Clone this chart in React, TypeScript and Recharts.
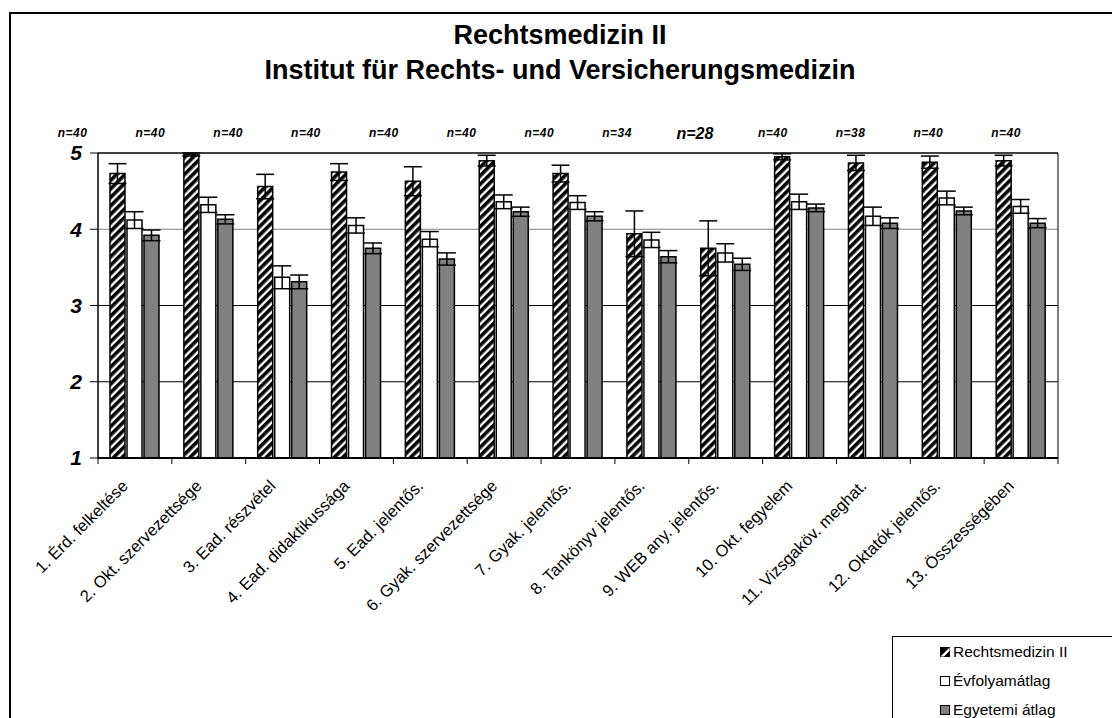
import { BarChart, Bar, XAxis, YAxis, ErrorBar, CartesianGrid, ReferenceArea, LabelList, Legend } from 'recharts';

const categories = [
  '1. Érd. felkeltése',
  '2. Okt. szervezettsége',
  '3. Ead. részvétel',
  '4. Ead. didaktikussága',
  '5. Ead. jelentős.',
  '6. Gyak. szervezettsége',
  '7. Gyak. jelentős.',
  '8. Tankönyv jelentős.',
  '9. WEB any. jelentős.',
  '10. Okt. fegyelem',
  '11. Vizsgaköv. meghat.',
  '12. Oktatók jelentős.',
  '13. Összességében',
];
const nValues = [40, 40, 40, 40, 40, 40, 40, 34, 28, 40, 38, 40, 40];

const instituteMean = [4.73, 4.98, 4.56, 4.75, 4.63, 4.9, 4.73, 3.94, 3.75, 4.95, 4.87, 4.88, 4.9];
const instituteErr = [0.13, 0.02, 0.16, 0.11, 0.19, 0.07, 0.11, 0.3, 0.36, 0.04, 0.1, 0.08, 0.07];
const cohortMean = [4.12, 4.32, 3.37, 4.05, 3.87, 4.36, 4.35, 3.86, 3.69, 4.36, 4.17, 4.41, 4.3];
const cohortErr = [0.11, 0.1, 0.15, 0.1, 0.1, 0.09, 0.09, 0.1, 0.12, 0.1, 0.12, 0.09, 0.09];
const univMean = [3.92, 4.13, 3.31, 3.75, 3.61, 4.23, 4.17, 3.64, 3.54, 4.28, 4.08, 4.24, 4.08];
const univErr = [0.07, 0.06, 0.09, 0.07, 0.08, 0.06, 0.06, 0.08, 0.08, 0.05, 0.07, 0.05, 0.06];

const seriesKeys = ['inst', 'cohort', 'univ'];
const seriesNames = ['Rechtsmedizin II', 'Évfolyamátlag', 'Egyetemi átlag'];

const yTicks = [1, 2, 3, 4, 5];

const FONT = 'Arial, "Liberation Sans", sans-serif';
const W = 1112;
const H = 718;
const PLOT_LEFT = 98;
const PLOT_RIGHT = 1058;
const BAND = (PLOT_RIGHT - PLOT_LEFT) / categories.length;
const BAR = 15;
const GAP = 2;
const GROUP = BAR * 3 + GAP * 2;

const rows = categories.map((name, i) => ({
  name,
  n: nValues[i],
  inst: instituteMean[i],
  instErr: instituteErr[i],
  cohort: cohortMean[i],
  cohortErr: cohortErr[i],
  univ: univMean[i],
  univErr: univErr[i],
}));

function CategoryTick(props: any) {
  const { x, y, payload, index } = props;
  const half = BAND / 2;
  return (
    <g>
      <line x1={x - half} x2={x - half} y1={y} y2={y + 6} stroke="#000" strokeWidth={1} />
      {index === categories.length - 1 && (
        <line x1={x + half} x2={x + half} y1={y} y2={y + 6} stroke="#000" strokeWidth={1} />
      )}
      <text
        transform={`translate(${x - 6},${y + 29}) rotate(-45)`}
        textAnchor="end"
        fontSize={16.5}
        fontFamily={FONT}
        fill="#000"
      >
        {payload.value}
      </text>
    </g>
  );
}

// n labels sit in a row above the plot, spread a bit wider than the groups
function NLabel(props: any) {
  const { x, value } = props;
  const center = x + GROUP / 2;
  const lx = 73 + (center - (PLOT_LEFT + BAND / 2)) * 1.0535;
  const big = value === 28;
  return (
    <text
      x={lx}
      y={big ? 139 : 137}
      textAnchor="middle"
      fontSize={big ? 16 : 12}
      fontWeight="bold"
      fontStyle="italic"
      fontFamily={FONT}
      letterSpacing={big ? 0 : 0.5}
      fill="#000"
    >
      {`n=${value}`}
    </text>
  );
}

function GridLine(props: any) {
  const { x1, x2, y1, y2, index } = props;
  return <line x1={x1} x2={x2} y1={y1} y2={y2} stroke={index === 3 ? '#808080' : '#000'} strokeWidth={1} />;
}

function LegendIcon({ kind }: { kind: string }) {
  if (kind === 'inst') {
    return (
      <svg width={10} height={10} style={{ marginRight: 3 }}>
        <rect x={0.5} y={0.5} width={9} height={9} fill="#000" stroke="#000" />
        <polygon points="9.5,0.5 9.5,4 4,9.5 0.5,9.5" fill="#fff" />
        <polygon points="9.5,4.5 9.5,9.5 5,9.5" fill="#000" />
      </svg>
    );
  }
  return (
    <svg width={10} height={10} style={{ marginRight: 3 }}>
      <rect x={0.5} y={0.5} width={9} height={9} fill={kind === 'cohort' ? '#fff' : '#808080'} stroke="#000" />
    </svg>
  );
}

function LegendBox() {
  return (
    <div
      style={{
        borderLeft: '1px solid #000',
        borderTop: '1px solid #000',
        width: 240,
        height: 100,
        paddingTop: 0,
        boxSizing: 'border-box',
        fontFamily: FONT,
        fontSize: 15.5,
        color: '#000',
      }}
    >
      {seriesKeys.map((key, i) => (
        <div key={key} style={{ display: 'flex', alignItems: 'center', height: 29, paddingLeft: 47 }}>
          <LegendIcon kind={key} />
          <span>{seriesNames[i]}</span>
        </div>
      ))}
    </div>
  );
}

export default function App() {
  return (
    <div style={{ position: 'absolute', left: 0, top: 0, width: W, height: H, overflow: 'hidden', background: '#fff' }}>
      <svg width={0} height={0} style={{ position: 'absolute' }}>
        <defs>
          <pattern id="hatch" width={6} height={6} patternUnits="userSpaceOnUse" patternTransform="rotate(45)">
            <rect width={6} height={6} fill="#fff" />
            <rect width={3.6} height={6} fill="#000" />
          </pattern>
        </defs>
      </svg>
      <div
        style={{ position: 'absolute', left: 9, top: 12, width: 1300, height: 900, border: '2px solid #000' }}
      />
      <div
        style={{
          position: 'absolute',
          left: 0,
          top: 18,
          width: 1120,
          textAlign: 'center',
          fontFamily: FONT,
          fontWeight: 'bold',
          fontSize: 27,
          lineHeight: '35px',
          color: '#000',
        }}
      >
        <div>Rechtsmedizin II</div>
        <div>Institut für Rechts- und Versicherungsmedizin</div>
      </div>
      <div style={{ position: 'absolute', left: 0, top: 0 }}>
        <BarChart
          width={W}
          height={H}
          data={rows}
          margin={{ top: 153, right: W - PLOT_RIGHT, bottom: 0, left: 0 }}
          barGap={GAP}
          barSize={BAR}
        >
          <CartesianGrid vertical={false} horizontal={(p: any) => <GridLine {...p} />} />
          <XAxis
            dataKey="name"
            height={260}
            interval={0}
            tickSize={0}
            tickMargin={0}
            tickLine={false}
            axisLine={{ stroke: '#000', strokeWidth: 2 }}
            tick={<CategoryTick />}
          />
          <YAxis
            width={PLOT_LEFT}
            type="number"
            domain={[1, 5]}
            ticks={yTicks}
            allowDataOverflow
            tickSize={8}
            tickMargin={8}
            axisLine={{ stroke: '#000', strokeWidth: 1 }}
            tickLine={{ stroke: '#000', strokeWidth: 1 }}
            tick={{ fontSize: 21, fontWeight: 'bold', fontStyle: 'italic', fill: '#000', fontFamily: FONT }}
          />
          <ReferenceArea y1={1} y2={5} fill="none" stroke="#000" strokeWidth={1} ifOverflow="visible" />
          <Legend
            layout="horizontal"
            verticalAlign="middle"
            align="center"
            wrapperStyle={{ position: 'absolute', left: 892, top: 636, width: 240, height: 100 }}
            content={<LegendBox />}
          />
          <Bar dataKey="inst" name={seriesNames[0]} fill="url(#hatch)" stroke="#000" strokeWidth={1.5} isAnimationActive={false}>
            <ErrorBar dataKey="instErr" width={9} stroke="#000" strokeWidth={1.5} />
            <LabelList dataKey="n" content={<NLabel />} />
          </Bar>
          <Bar dataKey="cohort" name={seriesNames[1]} fill="#fff" stroke="#000" strokeWidth={1.5} isAnimationActive={false}>
            <ErrorBar dataKey="cohortErr" width={9} stroke="#000" strokeWidth={1.5} />
          </Bar>
          <Bar dataKey="univ" name={seriesNames[2]} fill="#808080" stroke="#000" strokeWidth={1.5} isAnimationActive={false}>
            <ErrorBar dataKey="univErr" width={9} stroke="#000" strokeWidth={1.5} />
          </Bar>
        </BarChart>
      </div>
    </div>
  );
}
